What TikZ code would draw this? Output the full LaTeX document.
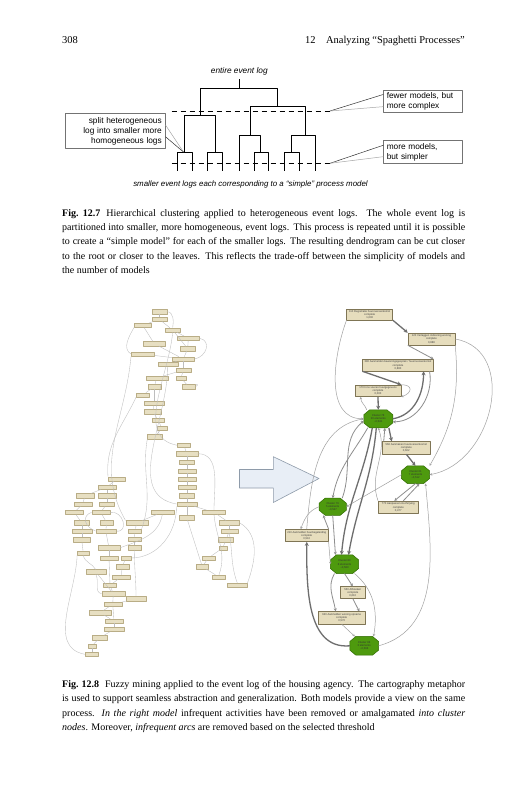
\documentclass[tikz,border=0pt]{standalone}
\usepackage{fontspec}
\setmainfont{Liberation Serif}
\newfontfamily\arialf{Liberation Sans}
\usetikzlibrary{arrows.meta,calc}
\definecolor{bxfill}{HTML}{E7DFC2}
\definecolor{bxline}{HTML}{B9AD86}
\definecolor{rbfill}{HTML}{E6DDBD}
\definecolor{rbline}{HTML}{7F7555}
\definecolor{clfill}{HTML}{4E9A0E}
\definecolor{clline}{HTML}{2F6A00}
\definecolor{arrfill}{HTML}{E8EEF6}
\definecolor{arrline}{HTML}{8E9BAA}
\definecolor{edgeL}{HTML}{BDBDBD}
\definecolor{edgeD}{HTML}{6E6E6E}
\definecolor{edgeM}{HTML}{8E8E8E}
\tikzset{
  dline/.style={line width=0.7pt, black},
  dashline/.style={line width=0.7pt, black, dash pattern=on 5.5pt off 3.5pt},
  cbox/.style={draw=black!55, line width=0.5pt, fill=white, inner sep=0pt, font=\arialf\fontsize{8.3}{10}\selectfont},
  cdark/.style={line width=0.5pt, black!80},
  clight/.style={line width=0.5pt, black!35},
  lbox/.style={rectangle, draw=bxline, fill=bxfill, line width=0.35pt, inner sep=0pt, minimum height=4.2pt},
  ledge/.style={draw=edgeL, line width=0.35pt},
  rbox/.style={rectangle, draw=rbline, fill=rbfill, line width=0.5pt, inner sep=0.5pt, align=center, font=\arialf\fontsize{2.7}{3.2}\selectfont, text=black!75},
  rclusbox/.style={rectangle, inner sep=0pt},
  rclusoct/.style={draw=clline, fill=clfill, line width=0.5pt},
  rclustext/.style={inner sep=0pt, align=center, font=\arialf\fontsize{2.7}{3.2}\selectfont, text=black!80},
  rthick/.style={draw=edgeD, line width=1.3pt, -{Stealth[length=4pt,width=4pt]}},
  rmed/.style={draw=edgeM, line width=0.8pt, -{Stealth[length=3pt,width=3pt]}},
  rthin/.style={draw=edgeL!85!black, line width=0.5pt, -{Stealth[length=2.5pt,width=2.5pt]}},
  capt/.style={anchor=north west, inner sep=0pt, text width=403pt, align=justify, font=\fontsize{10}{14.4}\selectfont}
}
% octagonal cluster node: name, x, y, width, height, text
\newcommand\clusnode[6]{%
  \node[rclusbox, minimum width=#4pt, minimum height=#5pt] (#1) at (#2,#3) {};
  \draw[rclusoct] ($(#1.north west)+(6,0)$) -- ($(#1.north east)+(-6,0)$) -- ($(#1.north east)+(0,5)$)
     -- ($(#1.south east)+(0,-5)$) -- ($(#1.south east)+(-6,0)$) -- ($(#1.south west)+(6,0)$)
     -- ($(#1.south west)+(0,-5)$) -- ($(#1.north west)+(0,5)$) -- cycle;
  \node[rclustext] at (#1) {#6};
}
\begin{document}
\begin{tikzpicture}[x=1pt,y=-1pt,line join=round]
\useasboundingbox (0,0) rectangle (527,800);
\fill[white] (0,0) rectangle (527,800);

% ---------- running head ----------
\node[anchor=base west, inner sep=0pt, font=\fontsize{10.5}{12}\selectfont] (pgno) at (62,44) {308};
\node[anchor=base east, inner sep=0pt, font=\fontsize{10.5}{12}\selectfont] (head) at (465,44) {12\hspace{1em}Analyzing “Spaghetti Processes”};

% ---------- Fig 12.7 dendrogram ----------
\node[inner sep=0pt, font=\arialf\itshape\fontsize{8.3}{10}\selectfont] (root) at (239.3,71.5) {entire event log};
\draw[dline] (239.3,79) -- (239.3,88.3);
\draw[dline] (200,115) -- (200,88.3) -- (277.3,88.3) -- (277.3,106);
\draw[dline] (184,152.7) -- (184,115) -- (215,115) -- (215,152.7);
\draw[dline] (177.3,170.7) -- (177.3,152.7) -- (192,152.7) -- (192,170.7);
\draw[dline] (207.3,170.7) -- (207.3,152.7) -- (222.7,152.7) -- (222.7,170.7);
\draw[dline] (250.7,135) -- (250.7,106) -- (305,106) -- (305,135);
\draw[dline] (239,170.7) -- (239,135) -- (260.7,135) -- (260.7,152.7);
\draw[dline] (254,170.7) -- (254,152.7) -- (268.7,152.7) -- (268.7,170.7);
\draw[dline] (291.7,152.7) -- (291.7,135) -- (315,135) -- (315,170.7);
\draw[dline] (284.3,170.7) -- (284.3,152.7) -- (299.7,152.7) -- (299.7,170.7);
\coordinate (t1) at (330,111);
\coordinate (t2) at (330,163.3);
\coordinate (t3) at (183.5,152);
\draw[dashline] (171.7,111) -- (t1);
\draw[dashline] (171.7,163.3) -- (t2);

\node[cbox, anchor=north west, minimum width=78.4pt, minimum height=21.7pt, text width=72pt, align=left] (fw) at (383.3,90) {fewer models, but\\more complex};
\node[cbox, anchor=north west, minimum width=78.4pt, minimum height=23.3pt, text width=72pt, align=left] (mm) at (383.3,140) {more models,\\but simpler};
\node[cbox, anchor=north west, minimum width=100pt, minimum height=35pt, text width=93pt, align=right] (sp) at (65,113.3) {split heterogeneous\\log into smaller more\\homogeneous logs};
\draw[cdark] ($(fw.north west)!0.2!(fw.south west)$) -- (t1);
\draw[clight] ($(fw.north west)!0.75!(fw.south west)$) -- (t1);
\draw[cdark] ($(mm.north west)!0.22!(mm.south west)$) -- (t2);
\draw[clight] ($(mm.north west)!0.7!(mm.south west)$) -- (t2);
\draw[clight] ($(sp.north east)!0.33!(sp.south east)$) -- (t3);
\draw[cdark] ($(sp.north east)!0.66!(sp.south east)$) -- (t3);

\node[inner sep=0pt, font=\arialf\itshape\fontsize{7.9}{9}\selectfont] (leaves) at (250.5,184.3) {smaller event logs each corresponding to a “simple” process model};

% ---------- caption 12.7 ----------
\node[capt] (cap1) at (62,209) {\textbf{Fig.~12.7}\hspace{0.6em}Hierarchical clustering applied to heterogeneous event logs. The whole event log is\linebreak
partitioned into smaller, more homogeneous, event logs. This process is repeated until it is possible\linebreak
to create a “simple model” for each of the smaller logs. The resulting dendrogram can be cut closer\linebreak
to the root or closer to the leaves. This reflects the trade-off between the simplicity of models and\linebreak
the number of models};

% ---------- left spaghetti model ----------
\foreach \n/\x/\y/\w in {
1/159.3/311.7/15, 2/159.3/319.3/15, 3/142.7/325.3/17, 4/172.7/330/15, 5/188.3/338.3/22,
6/154.3/343.7/22, 7/187.7/348.7/15, 8/142.7/354/23, 9/183.3/359/22, 10/167.7/364.3/20,
11/183.3/370/15, 12/156.7/378/22, 13/181/378.3/10, 14/189/386.7/13, 15/154.3/386.7/13,
16/142.7/395/13, 17/154.3/403.3/20, 18/152.7/411.7/17, 19/158.3/420/12, 20/161.7/428.3/10,
21/155/436.7/15, 22/184/445.3/13, 23/186.7/453.7/22, 24/186.7/462/15, 25/186.7/470.8/18,
26/186.7/479/18, 27/186.7/487.3/18, 28/186.7/495.7/15, 29/186.7/504/20, 30/186.7/517.7/15,
31/116.7/479/17, 32/106.7/487.3/18, 33/85/495.7/18, 34/106.7/495.7/18, 35/82.7/504/18,
36/106.7/504/15, 37/74.3/512.3/18, 38/100.7/512.3/18, 39/81.7/522.7/15, 40/106.7/522.7/13,
41/81.7/531/20, 42/105.7/531/20, 43/81.7/539.7/17, 44/83.3/553/12, 45/109/547.7/22,
46/109/558/18, 47/125.7/558/10, 48/122.3/566.7/13, 49/95.7/571.7/20, 50/121/577/18,
51/110/585.3/13, 52/113.3/593.7/23, 53/136/598.7/20, 54/112.7/604.3/18, 55/100/612.7/22,
56/114/621/18, 57/114/629.3/20, 58/100/637.7/15, 59/91.7/646/8, 60/91.7/654.3/13,
61/136.7/522.7/22, 62/135/531/13, 63/134.3/539.3/13, 64/134.3/547.7/13, 65/162.3/512.3/23,
66/214/512.3/23, 67/229.3/522.7/20, 68/229.3/531/17, 69/226/539.7/15, 70/222.7/548/8,
71/208.3/558/13, 72/202.3/566.7/12, 73/219/577/13, 74/237.3/585.3/20}
  \node[lbox, minimum width=\w pt] (L\n) at (\x,\y) {};

\foreach \a/\b in {1/2, 2/3, 2/4, 4/5, 4/7, 5/7, 3/6, 6/9, 8/9, 7/9, 9/10, 9/11, 11/12, 11/13,
13/14, 12/15, 15/16, 15/17, 17/18, 18/19, 19/20, 20/21, 22/23, 23/24, 24/25, 25/26, 26/27,
27/28, 28/29, 29/30, 29/66, 66/67, 67/68, 68/69, 69/70, 70/71, 71/72, 30/72, 72/73, 31/32,
32/33, 32/34, 33/35, 34/36, 35/37, 36/38, 37/39, 39/41, 41/43, 43/44, 38/40, 40/42, 42/45,
45/46, 47/48, 48/50, 50/51, 51/52, 49/52, 52/54, 53/54, 54/55, 54/56, 55/56, 56/57, 57/58,
58/59, 59/60, 65/61, 61/62, 62/63, 63/64, 46/51}
  \draw[ledge] (L\a) -- (L\b);
\draw[ledge] (L1.east) to[out=0,in=80] (L4.north);
\draw[ledge] (L3.south west) to[out=240,in=150] (L8.west);
\draw[ledge] (L8.south west) to[out=-95,in=120] (L61.north west);
\draw[ledge] (L16.south west) to[out=-115,in=95] (L31.north west);
\draw[ledge] (L21.south west) to[out=-100,in=70] (L62.north east);
\draw[ledge] (L10.south) to[out=-90,in=170] (L29.west);
\draw[ledge] (L4.south) to[out=-95,in=170] (L22.west);
\draw[ledge] (L23.east) to[out=0,in=90] (L66.north);
\draw[ledge] (L66.south) to[out=-85,in=70] (L73.north);
\draw[ledge] (L67.east) to[out=-30,in=70] (L74.north east);
\draw[ledge] (L68.south) to[out=-80,in=110] (L74.north);
\draw[ledge] (L29.south west) to[out=-90,in=0] (L47.east);
\draw[ledge] (L38.east) to[out=10,in=-10,looseness=1.8] (L42.east);
\draw[ledge] (L38.west) to[out=200,in=160,looseness=1.5] (L42.west);
\draw[ledge] (L64.south) to[out=-90,in=90] (L53.north);
\draw[ledge] (L44.south) to[out=-80,in=120] (L49.north);
\draw[ledge] (L44.south west) to[out=-92,in=170] (L60.west);
\draw[ledge] (L65.south) to[out=-100,in=20] (L45.east);
\draw[ledge] (L14.east) to[out=0,in=30,looseness=3] (L14.north east);
\draw[ledge] (L5.east) to[out=-10,in=10,looseness=1.5] (L9.east);
\draw[ledge] (L49.south) to[out=-60,in=170] (L52.west);

% ---------- big arrow ----------
\draw[draw=arrline, fill=arrfill, line width=0.6pt] (239.5,469.5) -- (273.3,469.5) -- (273.3,456.7) -- (319,478.5) -- (273.3,502.5) -- (273.3,488) -- (239.5,488) -- cycle;

% ---------- right fuzzy model ----------
\node[rbox, minimum width=46pt, minimum height=10.7pt] (N1) at (369.7,314.7) {110 Registratie huurovereenkomst\\complete\\1,000};
\node[rbox, minimum width=47pt, minimum height=12pt] (N2) at (431.5,339) {120 Verlaggen indicering woning\\complete\\0,888};
\node[rbox, minimum width=70.6pt, minimum height=11.7pt] (N3) at (398,365.2) {380 Aanmelden bewoningsgesprek / huurovereenkomst\\complete\\0,880};
\node[rbox, minimum width=46pt, minimum height=11.7pt] (N4) at (378,390.8) {170 In te voeren huurgegevens\\complete\\0,000};
\clusnode{C1}{378.3}{418.8}{28.7}{17.7}{Cluster 78\\20 elements\\\textasciitilde 0,541}
\node[rbox, minimum width=48.7pt, minimum height=12.3pt] (N5) at (406.3,447.8) {560 Aanmaken huurovereenkomst\\complete\\0,602};
\clusnode{C2}{415.5}{474.7}{27.7}{17.3}{Cluster 61\\7 elements\\\textasciitilde 0,512}
\node[rbox, minimum width=40pt, minimum height=12.3pt] (N6) at (398.3,507.2) {770 Aanpassen inschrijving\\complete\\0,477};
\clusnode{C3}{332.7}{506.7}{26.7}{16.7}{Cluster 79\\5 elements\\\textasciitilde 0,547}
\node[rbox, minimum width=43.3pt, minimum height=12.3pt] (N7) at (306.7,535.5) {210 Aanmelden huurbegeleiding\\complete\\0,510};
\clusnode{C4}{344.5}{564.2}{27.7}{18.3}{Cluster 80\\8 elements\\\textasciitilde 0,583}
\node[rbox, minimum width=25.7pt, minimum height=11.7pt] (N8) at (352.8,592.5) {550 Afboeken\\complete\\0,610};
\node[rbox, minimum width=46.7pt, minimum height=12.3pt] (N9) at (341.7,617.8) {620 Aanmelden woning opname\\complete\\0,570};
\clusnode{C5}{364.2}{645.8}{28.3}{18.3}{Cluster 86\\3 elements\\\textasciitilde 0,566}

\draw[rthick] (N1.south east) -- (N2.north west);
\draw[rthin] (N1.south west) to[out=250,in=180] (C1.west);
\draw[rmed] (N2.south west) -- (N3.north east);
\draw[rthin] (N2.south east) to[out=-85,in=60] (C2.north east);
\draw[rthin] (N2.east) to[out=-10,in=10,looseness=1.2] (C2.east);
\draw[rthick] (N3.south west) -- (N4.north east);
\draw[rthick] (N4.south) -- (C1.north);
\draw[rthin] ($(C1.north west)+(3,0)$) to[out=110,in=-90] ($(N4.south west)+(6,0)$);
\draw[rthin] (N4.north east) to[out=0,in=20,looseness=2.5] (N4.south east);
\draw[rthick] (C1.east) to[out=10,in=-90] ($(N3.south east)+(-10,0)$);
\draw[rmed] ($(N3.south east)+(-4,0)$) to[out=-80,in=0] ($(C1.east)+(0,3)$);
\draw[rthick] ($(C1.south east)+(-4,0)$) -- ($(N5.north west)+(10,0)$);
\draw[rmed] ($(N5.north west)+(2,0)$) -- ($(C1.south east)+(-8,0)$);
\draw[rthick] (N5.south) -- (C2.north);
\draw[rthin] (C2.west) -- (C3.east);
\draw[rmed] (C2.south) -- ($(N6.north)+(-4,0)$);
\draw[rmed] ($(N6.north)+(5,0)$) -- ($(C2.south)+(4,0)$);
\draw[rthin] (N6.north west) to[out=110,in=-70] (C1.south);
\draw[rmed] ($(C1.south west)+(4,0)$) to[out=240,in=80] (C3.north);
\draw[rmed] ($(C3.north east)+(-4,0)$) to[out=70,in=220] ($(C1.west)+(0,2)$);
\draw[rthin] (N7.north) to[out=85,in=190] (C1.west);
\draw[rthick] ($(C1.south)+(-6,0)$) to[out=-100,in=85] ($(C4.north)+(-3,0)$);
\draw[rthick] ($(C1.south)+(-2,0)$) to[out=-95,in=80] ($(C4.north)+(4,0)$);
\draw[rmed] (N7.north east) -- ($(C3.south west)+(4,0)$);
\draw[rthin] (C3.west) to[out=200,in=70] ($(N7.north)+(-6,0)$);
\draw[rmed] (C3.south) -- ($(C4.north west)+(5,0)$);
\draw[rthin] (N7.south east) -- (C4.west);
\draw[rmed] (C4.south) -- (N8.north);
\draw[rmed] ($(C4.south west)+(4,0)$) to[out=240,in=100] ($(N9.north)+(-6,0)$);
\draw[rmed] (N8.south) -- ($(N9.north east)+(-6,0)$);
\draw[rthin] ($(C4.south east)+(-4,0)$) to[out=-40,in=80] ($(C5.north east)+(-5,0)$);
\draw[rthin] (N9.south) -- ($(C5.north west)+(5,0)$);
\draw[rthick] (C5.west) to[out=185,in=-90] (N7.south);
\draw[rthin] (C5.east) to[out=15,in=-85] ($(C2.south east)+(-4,0)$);

% ---------- caption 12.8 ----------
\node[capt] (cap2) at (62,680) {\textbf{Fig.~12.8}\hspace{0.6em}Fuzzy mining applied to the event log of the housing agency. The cartography metaphor\linebreak
is used to support seamless abstraction and generalization. Both models provide a view on the same\linebreak
process. \textit{In the right model} infrequent activities have been removed or amalgamated \textit{into cluster}\linebreak
\textit{nodes}. Moreover, \textit{infrequent arcs} are removed based on the selected threshold};
\end{tikzpicture}
\end{document}
